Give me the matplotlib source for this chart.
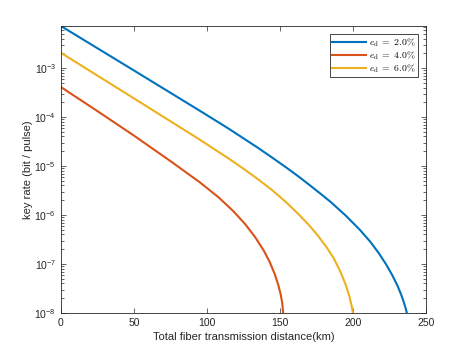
import numpy as np
import matplotlib
matplotlib.use('Agg')
import matplotlib.pyplot as plt
from matplotlib.ticker import LogLocator, NullFormatter

# distances (km) and log10(key rate)
dist_2 = [0, 50, 95, 115, 135, 145, 155, 163, 171, 178, 185, 195, 205, 212, 218, 223, 227,
          230.5, 233, 235, 236.3, 237.2]
logr_2 = [-2.143, -3.05, -3.87, -4.24, -4.63, -4.835, -5.045, -5.22, -5.405, -5.57, -5.74,
          -6.01, -6.31, -6.55, -6.79, -7.02, -7.23, -7.44, -7.62, -7.79, -7.92, -8.03]

dist_4 = [0, 25, 50, 75, 95, 108, 118, 126, 133, 139, 143, 146.5, 149, 150.6, 151.6, 152.3]
logr_4 = [-3.39, -3.88, -4.38, -4.90, -5.33, -5.64, -5.92, -6.18, -6.45, -6.73, -6.96, -7.21,
          -7.44, -7.63, -7.80, -8.02]

dist_6 = [0, 50, 95, 115, 125, 135, 145, 155, 163, 170, 176, 182, 187, 191.5, 195, 197.5,
          199.2, 200.3]
logr_6 = [-2.69, -3.62, -4.46, -4.85, -5.055, -5.27, -5.50, -5.76, -5.99, -6.21, -6.42, -6.66,
          -6.89, -7.16, -7.42, -7.65, -7.86, -8.05]

labels = [r'$e_{\rm d}\;=\;2.0\%$', r'$e_{\rm d}\;=\;4.0\%$', r'$e_{\rm d}\;=\;6.0\%$']
colors = ['#0072BD', '#D95319', '#EDB120']

plt.rcParams['font.family'] = ['Liberation Sans', 'DejaVu Sans']
plt.rcParams['mathtext.fontset'] = 'cm'
plt.rcParams['font.size'] = 7.5

fig = plt.figure(figsize=(4.69, 3.52), dpi=100)
ax = fig.add_axes([0.130, 0.111, 0.778, 0.815])

series = [(dist_2, logr_2), (dist_4, logr_4), (dist_6, logr_6)]
for (d, lr), lab, c in zip(series, labels, colors):
    ax.plot(d, 10.0 ** np.array(lr), color=c, lw=1.5, label=lab,
            solid_joinstyle='round')

ax.set_yscale('log')
ax.set_xlim(0, 250)
ax.set_ylim(1e-8, 10 ** -2.143)
ax.set_xticks([0, 50, 100, 150, 200, 250])
ax.yaxis.set_major_locator(LogLocator(base=10, numticks=10))
ax.yaxis.set_minor_locator(LogLocator(base=10, subs=np.arange(2, 10), numticks=20))
ax.yaxis.set_minor_formatter(NullFormatter())

# matlab-ish box look
for s in ax.spines.values():
    s.set_color('#262626')
    s.set_linewidth(0.6)
ax.tick_params(which='both', direction='in', top=True, right=True, colors='#262626',
               labelcolor='#262626', width=0.5)
ax.tick_params(which='major', length=3.5)
ax.tick_params(which='minor', length=2)

ax.set_xlabel('Total fiber transmission distance(km)', fontsize=8, color='#262626', labelpad=3)
ax.set_ylabel('key rate (bit / pulse)', fontsize=8, color='#262626', labelpad=1)

leg = ax.legend(loc='upper right', fontsize=7, fancybox=False, edgecolor='#262626',
                framealpha=1, handlelength=3.5, handletextpad=0.25, borderpad=0.25,
                labelspacing=0.0, borderaxespad=0.85)
leg.get_frame().set_linewidth(0.6)

fig.savefig('out.png', dpi=100)
